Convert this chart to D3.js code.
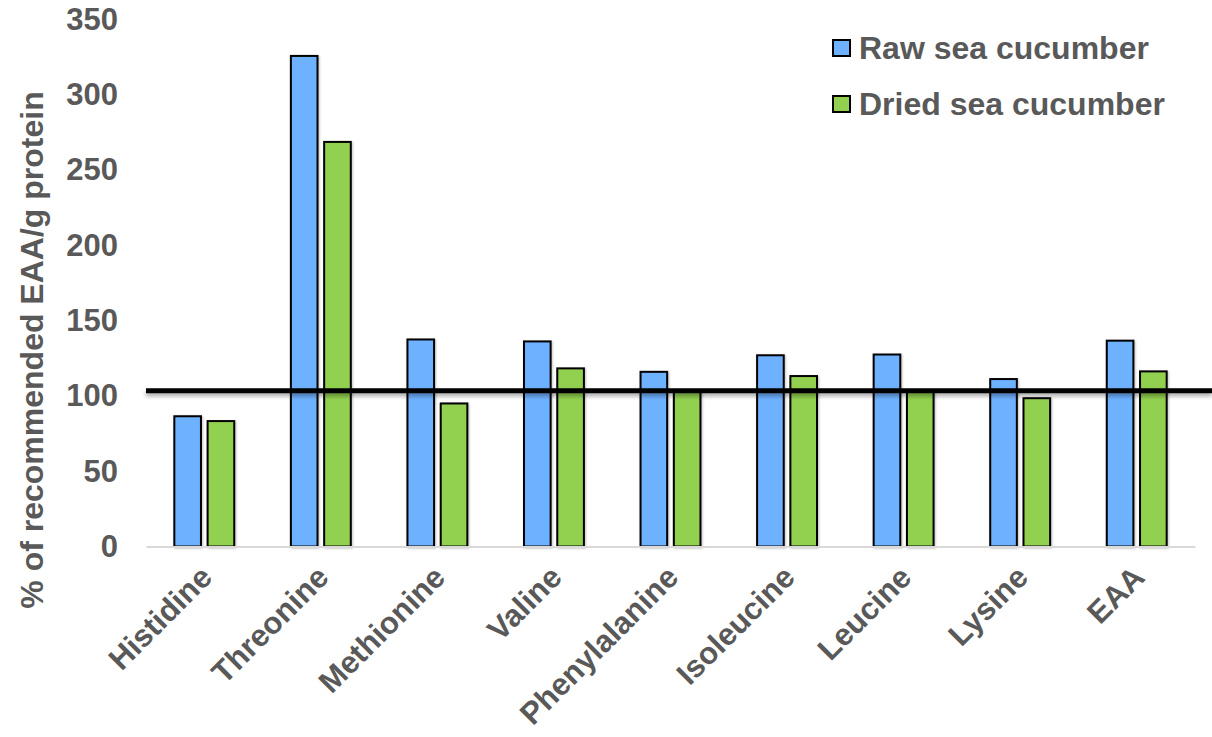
<!DOCTYPE html>
<html>
<head>
<meta charset="utf-8">
<script src="https://cdn.jsdelivr.net/npm/d3@7"></script>
<style>
  html, body { margin: 0; padding: 0; background: #fff; }
  svg { display: block; }
  text { font-family: "Liberation Sans", Arial, sans-serif; font-weight: bold; fill: #595959; }
</style>
</head>
<body>
<svg id="chart" width="1212" height="737"></svg>
<script>
// Essential amino acids, % of recommended EAA per g protein
const categories = ["Histidine", "Threonine", "Methionine", "Valine", "Phenylalanine",
                    "Isoleucine", "Leucine", "Lysine", "EAA"];
const seriesNames = ["Raw sea cucumber", "Dried sea cucumber"];
const rawValues   = [86.5, 325.8, 137.5, 136.2, 116.0, 127.0, 127.5, 111.2, 136.7];
const driedValues = [83.3, 268.7, 95.0, 118.3, 103.0, 113.2, 103.0, 98.5, 116.3];
const yTicks = [0, 50, 100, 150, 200, 250, 300, 350];
const referenceLevel = 103.5;
const colors = ["#6EB1FF", "#92D050"];

const svg = d3.select("#chart");

const defs = svg.append("defs");
const lineShadow = defs.append("filter").attr("id", "lineShadow")
  .attr("filterUnits", "userSpaceOnUse")
  .attr("x", 0).attr("y", 0).attr("width", 1212).attr("height", 737);
lineShadow.append("feDropShadow").attr("dx", 0).attr("dy", 3).attr("stdDeviation", 2)
  .attr("flood-color", "#000").attr("flood-opacity", 0.35);
const barShadow = defs.append("filter").attr("id", "barShadow")
  .attr("x", "-20%").attr("y", "-5%").attr("width", "140%").attr("height", "110%");
barShadow.append("feDropShadow").attr("dx", 1).attr("dy", 1).attr("stdDeviation", 1.2)
  .attr("flood-color", "#000").attr("flood-opacity", 0.25);

const x = d3.scaleBand().domain(categories).range([146, 1195])
  .paddingInner(0.486).paddingOuter(0.243);
const xs = d3.scaleBand().domain(seriesNames).range([0, x.bandwidth()]).paddingInner(0.2);
const y = d3.scaleLinear().domain([0, 350]).range([546.5, 19.5]);

// y tick labels (no axis line, no tick marks)
const yAxis = svg.append("g").attr("transform", "translate(118,0)")
  .call(d3.axisLeft(y).tickValues(yTicks).tickSize(0).tickPadding(0));
yAxis.select(".domain").remove();
yAxis.selectAll("text").attr("font-size", 31).attr("fill", "#595959")
  .style("font-family", "'Liberation Sans', Arial, sans-serif").style("font-weight", "bold");

// y axis title
svg.append("text")
  .attr("transform", "translate(43,350) rotate(-90)")
  .attr("text-anchor", "middle")
  .attr("font-size", 32)
  .text("% of recommended EAA/g protein");

// bars
const rows = categories.map((c, i) => ({ cat: c, vals: [rawValues[i], driedValues[i]] }));
const groups = svg.append("g").selectAll("g").data(rows).join("g")
  .attr("transform", d => `translate(${x(d.cat)},0)`);
groups.selectAll("rect").data(d => d.vals.map((v, j) => ({ name: seriesNames[j], v, j })))
  .join("rect")
  .attr("x", d => xs(d.name))
  .attr("y", d => y(d.v))
  .attr("width", xs.bandwidth())
  .attr("height", d => y(0) - y(d.v))
  .attr("fill", d => colors[d.j])
  .attr("stroke", "#000")
  .attr("stroke-width", 2)
  .attr("filter", "url(#barShadow)");

// category axis
const xAxis = svg.append("g").attr("transform", `translate(0,${y(0)})`)
  .call(d3.axisBottom(x).tickSize(0).tickPadding(0));
xAxis.select(".domain").attr("stroke", "#D9D9D9").attr("stroke-width", 2);
xAxis.selectAll(".tick text")
  .attr("font-size", 31)
  .attr("fill", "#595959")
  .style("font-family", "'Liberation Sans', Arial, sans-serif").style("font-weight", "bold")
  .attr("text-anchor", "end")
  .attr("dy", "0.35em")
  .attr("y", 0)
  .attr("transform", "translate(2,25) rotate(-45)");

// reference level line
svg.append("line")
  .attr("x1", 146).attr("x2", 1212)
  .attr("y1", y(referenceLevel)).attr("y2", y(referenceLevel))
  .attr("stroke", "#000").attr("stroke-width", 5)
  .attr("filter", "url(#lineShadow)");

// legend
const legend = svg.append("g").attr("transform", "translate(833,0)");
const items = legend.selectAll("g").data(seriesNames).join("g")
  .attr("transform", (d, i) => `translate(0,${48 + i * 56})`);
items.append("rect").attr("x", 0).attr("y", -8).attr("width", 17).attr("height", 16)
  .attr("fill", (d, i) => colors[i]).attr("stroke", "#000").attr("stroke-width", 2);
items.append("text").attr("x", 26).attr("y", 11).attr("font-size", 32).text(d => d);
</script>
</body>
</html>
